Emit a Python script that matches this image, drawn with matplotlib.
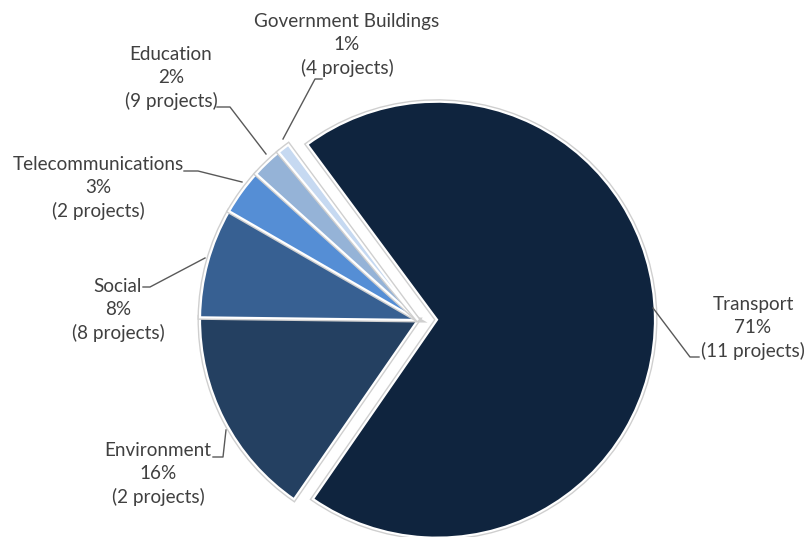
import matplotlib.pyplot as plt
import matplotlib.patheffects as pe

# Project share by sector
sectors = ["Transport", "Environment", "Social", "Telecommunications",
           "Education", "Government Buildings"]
shares = [70.4, 15.7, 8.2, 3.4, 2.3, 0.9]
pct_labels = ["71%", "16%", "8%", "3%", "2%", "1%"]
projects = [11, 2, 8, 2, 9, 4]
colors = ["#0F243E", "#244061", "#376092", "#558ED5", "#95B3D7", "#C6D9F1"]

W, H = 806, 537
cx, cy, R = 418, 320, 218  # pie centre / radius in pixels


def px(x, y):
    # pixel position -> data coords (pie radius = 1)
    return (x - cx) / R, (cy - y) / R


fig = plt.figure(figsize=(W / 100, H / 100), dpi=100)
ax = fig.add_axes([0, 0, 1, 1])

explode = [19 / R, 0, 0, 0, 0, 0]
wedges, _ = ax.pie(shares, colors=colors, startangle=126.5, counterclock=False,
                   explode=explode, radius=1,
                   wedgeprops=dict(edgecolor="white", linewidth=1.6))
for w in wedges:
    w.set_path_effects([pe.Stroke(linewidth=3.6, foreground="#cfcfcf"), pe.Normal()])

# label block centres (pixels)
label_pos = [(753, 328), (158, 474), (118, 310), (98, 188), (171, 78), (347, 45)]
for name, pct, n, (lx, ly) in zip(sectors, pct_labels, projects, label_pos):
    ax.text(*px(lx, ly), f"{name}\n{pct}\n({n} projects)", ha="center", va="center",
            fontsize=13.6, family="Lato", color="#404040", linespacing=1.4)

# leader lines (pixels)
leaders = [
    [(699, 357), (690, 357), (653, 308)],
    [(213, 457), (223, 457), (226, 430)],
    [(143, 287), (150, 287), (205, 258)],
    [(184, 171), (198, 171), (242, 182)],
    [(217, 107), (230, 107), (266, 154)],
    [(322, 79), (315, 79), (283, 139)],
]
for pts in leaders:
    xs, ys = zip(*[px(x, y) for x, y in pts])
    ax.plot(xs, ys, color="#595959", linewidth=1)

ax.set_xlim(-cx / R, (W - cx) / R)
ax.set_ylim(-(H - cy) / R, cy / R)
ax.set_aspect("auto")
ax.axis("off")

plt.savefig("out.png", dpi=100)
